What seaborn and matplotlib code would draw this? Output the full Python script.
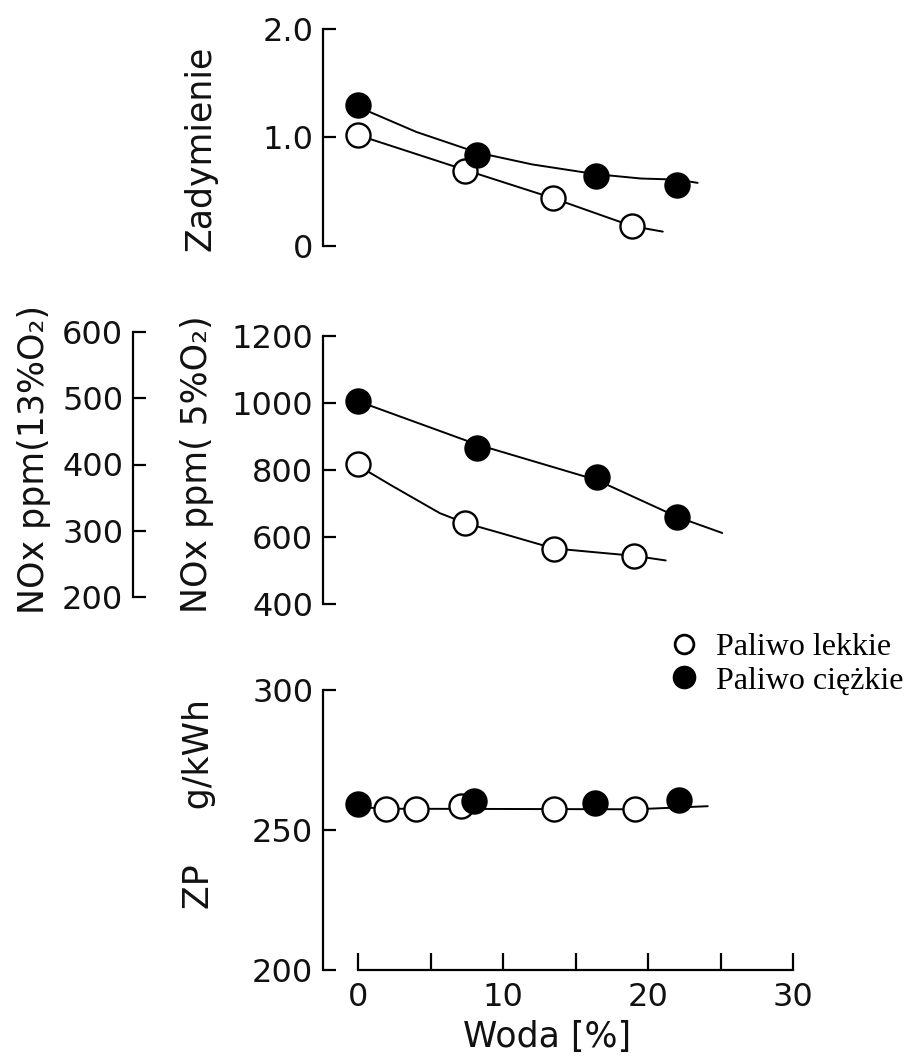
import seaborn as sns
import matplotlib.pyplot as plt
from matplotlib.lines import Line2D

# --- dane ---
# Zadymienie
smoke_light_x = [0, 7.35, 13.4, 18.9]
smoke_light_y = [1.02, 0.69, 0.44, 0.18]
smoke_heavy_x = [0, 8.2, 16.4, 22.0]
smoke_heavy_y = [1.30, 0.84, 0.64, 0.56]
smoke_light_fit_x = [0, 7.35, 13.4, 18.9, 21.0]
smoke_light_fit_y = [1.02, 0.70, 0.44, 0.18, 0.13]
smoke_heavy_fit_x = [0, 4.0, 8.2, 12.0, 16.4, 19.5, 22.0, 23.4]
smoke_heavy_fit_y = [1.28, 1.05, 0.86, 0.75, 0.66, 0.62, 0.61, 0.58]

# NOx ppm (5% O2)
nox_light_x = [0, 7.35, 13.47, 19.0]
nox_light_y = [818, 642, 564, 544]
nox_heavy_x = [0, 8.2, 16.45, 22.0]
nox_heavy_y = [1005, 866, 780, 659]
nox_light_fit_x = [0, 0.8, 2.2, 3.57, 5.63, 7.35, 9.8, 13.47, 16.7, 19.0, 21.2]
nox_light_fit_y = [818, 792, 756, 722, 671, 642, 612, 566, 553, 544, 530]
nox_heavy_fit_x = [0, 8.2, 16.45, 22.0, 25.1]
nox_heavy_fit_y = [1005, 876, 770, 660, 612]

# ZP g/kWh
zp_light_x = [1.9, 4.0, 7.1, 13.5, 19.1]
zp_light_y = [257.4, 257.4, 258.7, 257.4, 257.4]
zp_heavy_x = [0, 7.95, 16.3, 22.1]
zp_heavy_y = [259.3, 260.5, 259.8, 260.6]
zp_fit_x = [0, 2, 19.1, 24.1]
zp_fit_y = [258.2, 257.6, 257.4, 258.5]

labels = ['Paliwo lekkie', 'Paliwo ciężkie']

sns.set_style('ticks')
plt.rcParams['font.family'] = ['DejaVu Sans']
plt.rcParams['text.color'] = 'black'

W, H = 912, 1058
fig = plt.figure(figsize=(W / 100, H / 100), dpi=100)


def box(left, top, right, bottom):
    return [left / W, 1 - bottom / H, (right - left) / W, (bottom - top) / H]


ax1 = fig.add_axes(box(323, 29, 808, 245.7))
ax2 = fig.add_axes(box(323, 336, 808, 604))
ax3 = fig.add_axes(box(323, 690, 808, 970))
ax_sec = fig.add_axes(box(133, 332.3, 140, 596.7))

TICK_FS = 23
LAB_FS = 25
LW = 1.4
MS = 300
TXT = '#111111'


def draw(ax, fit_l, fit_h, pts_l, pts_h):
    for fx, fy in (fit_l, fit_h):
        if fx is not None:
            sns.lineplot(x=fx, y=fy, ax=ax, color='black', lw=LW, sort=False,
                         estimator=None, zorder=2)
    sns.scatterplot(x=pts_l[0], y=pts_l[1], ax=ax, s=MS, color='white',
                    edgecolor='black', linewidth=1.7, zorder=3, clip_on=False)
    sns.scatterplot(x=pts_h[0], y=pts_h[1], ax=ax, s=MS, color='black',
                    edgecolor='black', linewidth=1.7, zorder=4, clip_on=False)


draw(ax1, (smoke_light_fit_x, smoke_light_fit_y), (smoke_heavy_fit_x, smoke_heavy_fit_y),
     (smoke_light_x, smoke_light_y), (smoke_heavy_x, smoke_heavy_y))
draw(ax2, (nox_light_fit_x, nox_light_fit_y), (nox_heavy_fit_x, nox_heavy_fit_y),
     (nox_light_x, nox_light_y), (nox_heavy_x, nox_heavy_y))
draw(ax3, (zp_fit_x, zp_fit_y), (None, None),
     (zp_light_x, zp_light_y), (zp_heavy_x, zp_heavy_y))

xmin = (323 - 358.3) / 14.5
xmax = xmin + (808 - 323) / 14.5

for ax in (ax1, ax2, ax3, ax_sec):
    for s in ('top', 'right', 'bottom'):
        ax.spines[s].set_visible(False)
    ax.spines['left'].set_linewidth(1.6)
    ax.spines['left'].set_color('black')
    ax.patch.set_visible(False)
    ax.tick_params(axis='y', direction='in', length=9.4, width=1.6, pad=7,
                   labelsize=TICK_FS, colors='black', labelcolor=TXT)
    ax.set_xlabel('')

for ax in (ax1, ax2, ax3):
    ax.set_xlim(xmin, xmax)

for ax in (ax1, ax2, ax_sec):
    ax.set_xticks([])

ax1.set_ylim(0, 2)
ax1.set_yticks([0, 1, 2])
ax1.set_yticklabels(['0', '1.0', '2.0'])

ax2.set_ylim(400, 1200)
ax2.set_yticks([400, 600, 800, 1000, 1200])

ax_sec.set_ylim(200, 600)
ax_sec.set_yticks([200, 300, 400, 500, 600])

ax3.set_ylim(200, 300)
ax3.set_yticks([200, 250, 300])
ax3.spines['bottom'].set_visible(True)
ax3.spines['bottom'].set_linewidth(1.6)
ax3.spines['bottom'].set_color('black')
ax3.spines['bottom'].set_bounds(0, 30)
ax3.set_xticks([0, 10, 20, 30])
ax3.set_xticks([5, 15, 25], minor=True)
ax3.tick_params(axis='x', which='both', direction='in', length=12, width=1.6,
                pad=9, labelsize=TICK_FS, colors='black', labelcolor=TXT)

# opisy osi
ax1.set_ylabel('Zadymienie', fontsize=LAB_FS, color=TXT)
ax1.yaxis.set_label_coords(218 / W, 1 - 148 / H, transform=fig.transFigure)
ax2.set_ylabel('NOx ppm( 5%O\u2082)', fontsize=LAB_FS, color=TXT)
ax2.yaxis.set_label_coords(214 / W, 1 - 464 / H, transform=fig.transFigure)
ax_sec.set_ylabel('NOx ppm(13%O\u2082)', fontsize=LAB_FS, color=TXT)
ax_sec.yaxis.set_label_coords(51 / W, 1 - 459 / H, transform=fig.transFigure)
ax3.set_ylabel('ZP     g/kWh', fontsize=LAB_FS, color=TXT)
ax3.yaxis.set_label_coords(216 / W, 1 - 804 / H, transform=fig.transFigure)
ax3.set_xlabel('Woda [%]', fontsize=LAB_FS, color=TXT)
ax3.xaxis.set_label_coords(547 / W, 1 - 1020 / H, transform=fig.transFigure)

handles = [
    Line2D([], [], ls='none', marker='o', ms=13.5, mfc='white', mec='black', mew=2.0),
    Line2D([], [], ls='none', marker='o', ms=15.5, mfc='black', mec='black', mew=1.5),
]
fig.legend(handles, labels, loc='upper left', bbox_to_anchor=(668 / W, 1 - 633 / H),
           frameon=False, prop={'family': 'Liberation Serif', 'size': 23},
           labelcolor='black', handlelength=1.0, handletextpad=0.5, labelspacing=0.12,
           borderpad=0, borderaxespad=0)

fig.savefig('out.png', dpi=100)
